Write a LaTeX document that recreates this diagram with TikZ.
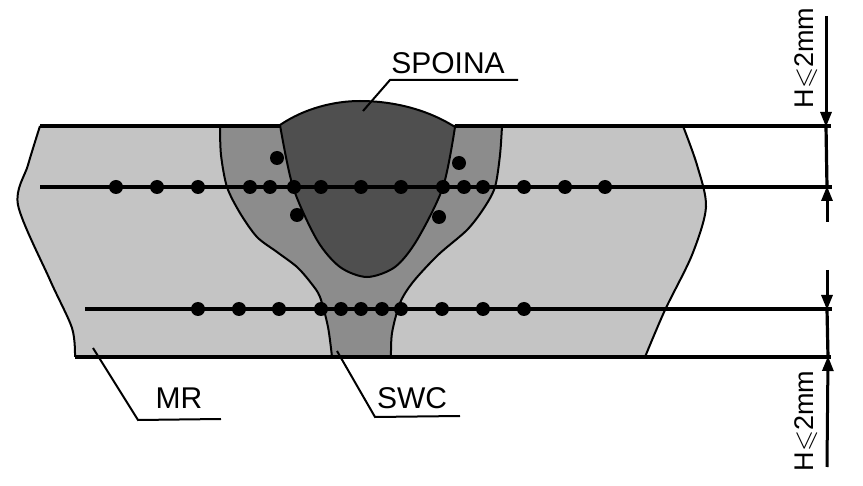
\documentclass[tikz,border=0pt]{standalone}
\usepackage{amssymb}
\usepackage{fontspec}
\setmainfont{Liberation Sans}
\usetikzlibrary{arrows.meta}

\begin{document}
\begin{tikzpicture}[x=1pt, y=-1pt,
      lbl/.style={inner sep=0pt, font=\fontsize{30}{32}\selectfont},
      dimlbl/.style={inner sep=0pt, rotate=90, font=\fontsize{27}{29}\selectfont},
      dot/.style={circle, fill=black, inner sep=0pt, minimum size=14pt},
      main/.style={line width=3.2pt},
      leader/.style={line width=2pt},
      dimarrow/.style={line width=3pt, -{Triangle[length=15pt,width=11pt]}, shorten >=-1pt}]

      \useasboundingbox (0,0) rectangle (863,486);

      % base metal
      \fill[fill=black!23] (40,126) -- (683,126)
        -- plot[smooth] coordinates {(683,126) (697,165) (706,207) (692,255) (665,310) (645,357)}
        -- (75,357)
        -- plot[smooth] coordinates {(75,357) (72,328) (50,280) (18,205) (28,165) (40,126)} -- cycle;
      \draw[line width=2pt] plot[smooth] coordinates {(683,126) (697,165) (706,207) (692,255) (665,310) (645,357)};
      \draw[line width=2pt] plot[smooth] coordinates {(75,357) (72,328) (50,280) (18,205) (28,165) (40,126)};

      % heat affected zone
      \draw[line width=2pt, fill=black!45] plot[smooth] coordinates {(220,126) (221,155) (227,187) (240,213) (257,237) (277,252) (297,267) (311,283) (320,297) (328,327) (332,357)}
        -- plot[smooth] coordinates {(391,357) (392,333) (400,303) (413,282) (438,255) (467,230) (484,208) (495,187) (500,155) (502,126)} -- cycle;

      % weld
      \draw[line width=2pt, fill=black!69] (280,125)
        .. controls (305,108) and (335,101) .. (360,101)
        .. controls (390,101) and (425,108) .. (455,127)
        -- plot[smooth] coordinates {(455,127) (443,187) (417,240) (395,267) (367,277) (340,267) (317,240) (293,187) (280,125)} -- cycle;

      % section lines
      \coordinate (t0) at (40,126);
      \coordinate (t1) at (280,126);
      \coordinate (t2) at (455,126);
      \coordinate (t3) at (831,126);
      \coordinate (u0) at (40,187);
      \coordinate (u1) at (832,187);
      \coordinate (l0) at (85,309);
      \coordinate (l1) at (832,309);
      \coordinate (b0) at (75,357);
      \coordinate (b1) at (831,357);
      \path[main]
        (t0) edge [] (t1)
        (t2) edge [] (t3)
        (u0) edge [] (u1)
        (l0) edge [] (l1)
        (b0) edge [] (b1);

      % upper row
      \node[dot] (u116) at (116,187) {};
      \node[dot] (u157) at (157,187) {};
      \node[dot] (u198) at (198,187) {};
      \node[dot] (u250) at (250,187) {};
      \node[dot] (u270) at (270,187) {};
      \node[dot] (u294) at (294,187) {};
      \node[dot] (u321) at (321,187) {};
      \node[dot] (u361) at (361,187) {};
      \node[dot] (u401) at (401,187) {};
      \node[dot] (u443) at (443,187) {};
      \node[dot] (u464) at (464,187) {};
      \node[dot] (u483) at (483,187) {};
      \node[dot] (u524) at (524,187) {};
      \node[dot] (u565) at (565,187) {};
      \node[dot] (u605) at (605,187) {};
      \node[dot] (o1) at (277,158) {};
      \node[dot] (o2) at (459,163) {};
      \node[dot] (o3) at (297,215) {};
      \node[dot] (o4) at (439,217) {};

      % lower row
      \node[dot] (l198) at (198,309) {};
      \node[dot] (l239) at (239,309) {};
      \node[dot] (l279) at (279,309) {};
      \node[dot] (l321) at (321,309) {};
      \node[dot] (l341) at (341,309) {};
      \node[dot] (l361) at (361,309) {};
      \node[dot] (l382) at (382,309) {};
      \node[dot] (l401) at (401,309) {};
      \node[dot] (l442) at (442,309) {};
      \node[dot] (l483) at (483,309) {};
      \node[dot] (l524) at (524,309) {};

      % labels
      \node[lbl] (spoina) at (448,63) {SPOINA};
      \node[lbl] (mr) at (179,398) {MR};
      \node[lbl] (swc) at (412,398) {SWC};
      \node[dimlbl] (htop) at (806,58) {H$\leqslant$2mm};
      \node[dimlbl] (hbot) at (806,421) {H$\leqslant$2mm};

      % leaders
      \coordinate (sp0) at (363,111);
      \coordinate (sp1) at (390,80);
      \coordinate (sp2) at (518,80);
      \coordinate (mr0) at (93,348);
      \coordinate (mr1) at (138,420);
      \coordinate (mr2) at (221,419);
      \coordinate (sw0) at (337,351);
      \coordinate (sw1) at (375,417);
      \coordinate (sw2) at (460,416);
      \draw[leader] (sp0) -- (sp1) -- (sp2);
      \draw[leader] (mr0) -- (mr1) -- (mr2);
      \draw[leader] (sw0) -- (sw1) -- (sw2);

      % dimensions
      \coordinate (a0) at (826,16);
      \coordinate (a1) at (826,126);
      \coordinate (a2) at (827,187);
      \coordinate (a3) at (827,222);
      \coordinate (a4) at (827,270);
      \coordinate (a5) at (827,309);
      \coordinate (a6) at (828,357);
      \coordinate (a7) at (827,467);
      \draw[main] (a1) -- (a2);
      \draw[main] (a5) -- (a6);
      \draw[dimarrow] (a0) -- (a1);
      \draw[dimarrow] (a3) -- (a2);
      \draw[dimarrow] (a4) -- (a5);
      \draw[dimarrow] (a7) -- (a6);

    \end{tikzpicture}
\end{document}
